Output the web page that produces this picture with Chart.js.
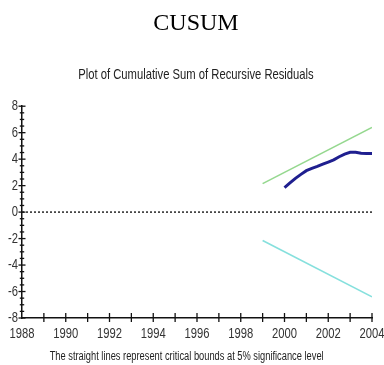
<!DOCTYPE html>
<html>
<head>
<meta charset="utf-8">
<script src="https://cdn.jsdelivr.net/npm/chart.js@4"></script>
<style>
html,body{margin:0;padding:0;background:#fff;}
#wrap{width:384px;height:365px;}
</style>
</head>
<body>
<div id="wrap"><canvas id="c" width="384" height="365"></canvas></div>
<script>
// ---- data ----
const chartTitle = "CUSUM";
const plotTitle = "Plot of Cumulative Sum of Recursive Residuals";
const footNote = "The straight lines represent critical bounds at 5% significance level";

const xMin = 1988, xMax = 2004;
const yMin = -8, yMax = 8;

const cusumX = [2000, 2000.25, 2000.5, 2000.75, 2001, 2001.25, 2001.5, 2001.75, 2002, 2002.25, 2002.5, 2002.75, 2003, 2003.25, 2003.5, 2003.75, 2004];
const cusumY = [1.85, 2.2, 2.55, 2.85, 3.13, 3.3, 3.45, 3.62, 3.78, 3.95, 4.18, 4.38, 4.52, 4.52, 4.45, 4.43, 4.43];

const boundX = [1999, 2004];
const upperY = [2.15, 6.4];
const lowerY = [-2.15, -6.4];

const zeroX = [1988, 2004];
const zeroY = [0, 0];

const SANS = "'Liberation Sans', Arial, sans-serif";
const NARROW_RATIO = 0.775; // reference sans text is horizontally condensed

function pts(xs, ys) { return xs.map((x, i) => ({x: x, y: ys[i]})); }

const canvas = document.getElementById('c');
const ctx2d = canvas.getContext('2d');
// draw sans-serif text condensed (like Arial Narrow), keeping it real text
const origFillText = ctx2d.fillText.bind(ctx2d);
ctx2d.fillText = function(text, x, y, maxWidth) {
  if (this.font.indexOf('Liberation Sans') >= 0) {
    this.save();
    this.translate(x, y);
    this.scale(NARROW_RATIO, 1);
    if (maxWidth !== undefined) origFillText(text, 0, 0, maxWidth / NARROW_RATIO);
    else origFillText(text, 0, 0);
    this.restore();
  } else {
    if (maxWidth !== undefined) origFillText(text, x, y, maxWidth);
    else origFillText(text, x, y);
  }
};

// crossing tick marks drawn through the library's scales
const crossTicks = {
  id: 'crossTicks',
  afterDraw(chart) {
    const ctx = chart.ctx;
    const xs = chart.scales.x, ys = chart.scales.y;
    const ax = xs.getPixelForValue(xMin);
    const ay = ys.getPixelForValue(yMin);
    ctx.save();
    ctx.strokeStyle = '#111';
    ctx.lineWidth = 1.3;
    for (let v = yMin; v <= yMax + 1e-9; v += 0.5) {
      const p = ys.getPixelForValue(v);
      const major = Math.abs(v % 2) < 1e-9;
      const h = major ? 3.5 : 2.2;
      ctx.beginPath();
      ctx.moveTo(ax - h, p);
      ctx.lineTo(ax + h, p);
      ctx.stroke();
    }
    for (let v = xMin + 1; v <= xMax; v += 1) {
      const p = xs.getPixelForValue(v);
      ctx.beginPath();
      ctx.moveTo(p, ay - 5);
      ctx.lineTo(p, ay + 4);
      ctx.stroke();
    }
    ctx.restore();
  }
};

new Chart(canvas, {
  type: 'line',
  data: {
    datasets: [
      { label: 'zero', data: pts(zeroX, zeroY), borderColor: '#333', borderWidth: 1.6, borderDash: [2, 2], pointRadius: 0 },
      { label: 'upper', data: pts(boundX, upperY), borderColor: '#95d88f', borderWidth: 1.6, pointRadius: 0 },
      { label: 'lower', data: pts(boundX, lowerY), borderColor: '#86e0dd', borderWidth: 1.6, pointRadius: 0 },
      { label: 'CUSUM', data: pts(cusumX, cusumY), borderColor: '#1f1f8f', borderWidth: 3, pointRadius: 0, tension: 0 }
    ]
  },
  options: {
    responsive: false,
    animation: false,
    layout: { padding: { left: 8, right: 0, top: 0, bottom: 0 } },
    plugins: {
      legend: { display: false },
      tooltip: { enabled: false },
      title: {
        display: true, text: chartTitle, color: '#000',
        font: { family: "'Liberation Serif', 'Times New Roman', serif", size: 24, weight: 'normal', lineHeight: 1.2 },
        padding: { top: 9, bottom: 28 }
      },
      subtitle: {
        display: true, text: plotTitle, color: '#222',
        font: { family: SANS, size: 14.5, weight: 'normal', lineHeight: 1.2 },
        padding: { top: 0, bottom: 23 }
      }
    },
    scales: {
      x: {
        type: 'linear', min: xMin, max: xMax,
        border: { display: true, color: '#111', width: 1.5 },
        grid: { display: false, drawTicks: false },
        ticks: {
          stepSize: 2, color: '#333', padding: 7, maxRotation: 0, autoSkip: false,
          font: { family: SANS, size: 14.5 },
          callback: v => String(v)
        },
        title: {
          display: true, text: footNote + "        ", color: '#222',
          font: { family: SANS, size: 12, lineHeight: 1.2 },
          padding: { top: 0, bottom: 1 }
        },
        afterFit: s => { s.height = 47; s.paddingLeft = 0; s.paddingRight = 0; }
      },
      y: {
        type: 'linear', min: yMin, max: yMax,
        border: { display: true, color: '#111', width: 1.5 },
        grid: { display: false, drawTicks: false },
        ticks: {
          stepSize: 2, color: '#333', padding: 4,
          font: { family: SANS, size: 14.5 }
        },
        afterFit: s => { s.width = 14; s.paddingTop = 0; s.paddingBottom = 0; }
      },
      y2: {
        type: 'linear', position: 'right', min: yMin, max: yMax,
        border: { display: false },
        grid: { display: false, drawTicks: false },
        ticks: { display: false },
        afterFit: s => { s.width = 12; s.paddingTop = 0; s.paddingBottom = 0; }
      }
    }
  },
  plugins: [crossTicks]
});
</script>
</body>
</html>
